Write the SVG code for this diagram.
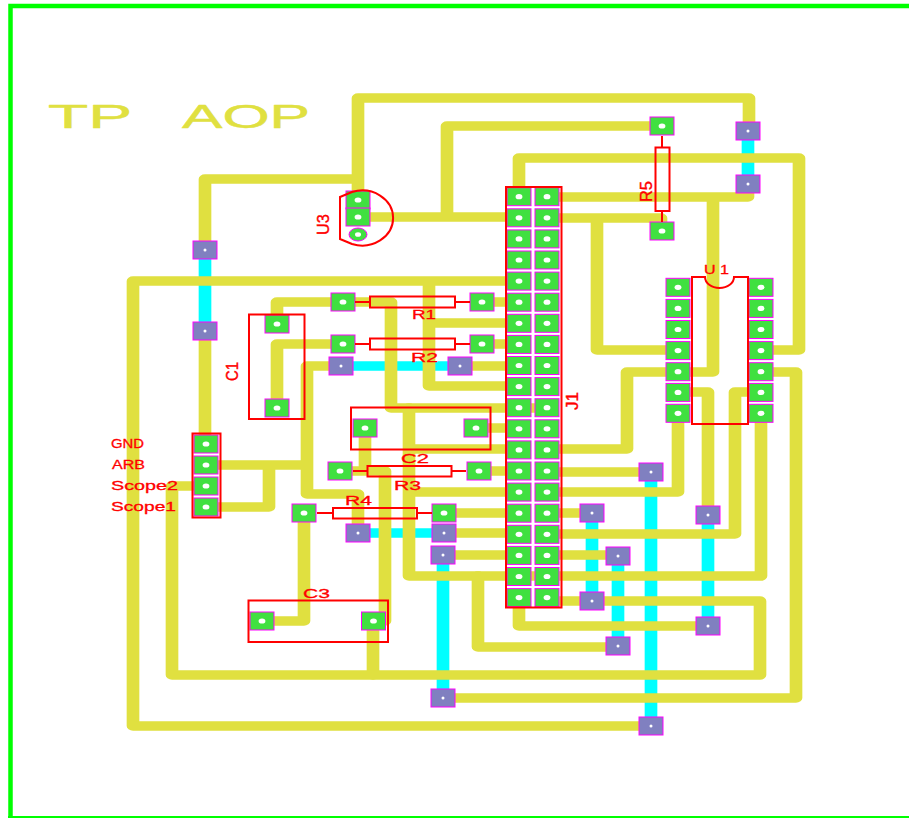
<svg xmlns="http://www.w3.org/2000/svg" xmlns:xlink="http://www.w3.org/1999/xlink" width="909" height="818" viewBox="0 0 909 818">
<style>
.t{fill:none;stroke:#e0e040;stroke-width:9.500;stroke-linejoin:round;stroke-linecap:round}
.c{fill:none;stroke:#00ffff;stroke-width:9.500}
.o{fill:none;stroke:#ff0000;stroke-width:2}
.l{fill:#ff0000;stroke:#ff0000;stroke-width:.3;font-family:"Liberation Sans",Arial,sans-serif;font-size:12.5px}
.r{fill:#ff0000;stroke:#ff0000;stroke-width:.4;font-family:"Liberation Sans",Arial,sans-serif;font-size:16.5px}
.title{fill:#e0e040;stroke:#e0e040;stroke-width:.5;stroke-linejoin:round;font-family:"Liberation Sans",Arial,sans-serif;font-size:34px}
</style>
<defs>
<g id="pad"><rect x="-12" y="-9" width="24" height="18" fill="#40e040" stroke="#ff00ff" stroke-width="1"/><ellipse rx="3.400" ry="2.600" fill="#fff"/></g>
<g id="via"><rect x="-12" y="-9" width="24" height="18" fill="#8080c0" stroke="#ff00ff" stroke-width="1"/><circle r="1.500" fill="#fff"/></g>
</defs>
<rect width="909" height="818" fill="#fff"/>
<path d="M10.500 818V6H909" fill="none" stroke="#00ff00" stroke-width="4.500"/>
<path d="M8 817H909" fill="none" stroke="#00ff00" stroke-width="2"/>
<g id="title"><text class="title" x="48" y="127.500" textLength="84" lengthAdjust="spacingAndGlyphs">TP</text><text class="title" x="182" y="127.500" textLength="128" lengthAdjust="spacingAndGlyphs">AOP</text></g>
<g id="connectors" transform="scale(1.33333,1)">
<g id="bottom-layer"><path class="c" d="M153.750 250V331M255.750 366H345M268.500 533H333M332.250 555V698M444 513V601M463.500 556V646M488.250 472V726M531 515V626M561 131V184"/></g>
<g id="top-layer">
<path class="t" d="M153.750 250V179H268.500V98H561.750V131M268.500 179V200"/>
<path class="t" d="M268.500 217H389.250M335.250 217V126H495.750"/>
<path class="t" d="M410.250 218H495.750V231M447.750 218V350H508.500"/>
<path class="t" d="M410.250 197H561V184M534.750 197V372H470.250V449H410.250"/>
<path class="t" d="M389.250 197V158H599.250V350H570.750"/>
<path class="t" d="M508.500 392H531V515"/>
<path class="t" d="M508.500 413V492H410.250"/>
<path class="t" d="M488.250 472H410.250"/>
<path class="t" d="M570.750 392H551.250V534H410.250"/>
<path class="t" d="M306.750 408V576H570.750V413M306.750 449H389.250M306.750 492H389.250"/>
<path class="t" d="M257.250 302H293.250V408H410.250"/>
<path class="t" d="M207.750 324V302H257.250"/>
<path class="t" d="M207.750 408V344H257.250"/>
<path class="t" d="M488.250 726H99.750V281H389.250M321.750 281V386H389.250M321.750 323H389.250"/>
<path class="t" d="M361.500 302H389.250M361.500 344H389.250M345 366H389.250M358.500 428H389.250M359.250 471H389.250"/>
<path class="t" d="M255 471H288.750V621H279.750V675M273.750 428V471"/>
<path class="t" d="M255.750 366H230.250V494H268.500V533M154.500 465H230.250M201.750 465V507H154.500"/>
<path class="t" d="M154.500 486H129V675H570V601H410.250"/>
<path class="t" d="M153.750 331V444"/>
<path class="t" d="M333 513H389.250M333 533H389.250M332.250 555H389.250M410.250 513H444M410.250 555H463.500"/>
<path class="t" d="M228 513V621H196.500"/>
<path class="t" d="M332.250 698H597V372H570.750"/>
<path class="t" d="M463.500 647H358.500V576"/>
<path class="t" d="M389.250 598V626H531"/>
</g>
</g>
<g id="vias">
<g id="via1"><use href="#via" x="205" y="250"/></g>
<g id="via2"><use href="#via" x="205" y="331"/></g>
<g id="via3"><use href="#via" x="341" y="366"/></g>
<g id="via4"><use href="#via" x="460" y="366"/></g>
<g id="via5"><use href="#via" x="358" y="533"/></g>
<g id="via6"><use href="#via" x="444" y="533"/></g>
<g id="via7"><use href="#via" x="443" y="555"/></g>
<g id="via8"><use href="#via" x="443" y="698"/></g>
<g id="via9"><use href="#via" x="592" y="513"/></g>
<g id="via10"><use href="#via" x="592" y="601"/></g>
<g id="via11"><use href="#via" x="618" y="556"/></g>
<g id="via12"><use href="#via" x="618" y="646"/></g>
<g id="via13"><use href="#via" x="651" y="472"/></g>
<g id="via14"><use href="#via" x="651" y="726"/></g>
<g id="via15"><use href="#via" x="708" y="515"/></g>
<g id="via16"><use href="#via" x="708" y="626"/></g>
<g id="via17"><use href="#via" x="748" y="131"/></g>
<g id="via18"><use href="#via" x="748" y="184"/></g>
</g>
<g id="J1">
<use href="#pad" x="519" y="196.700"/><use href="#pad" x="547" y="196.700"/>
<use href="#pad" x="519" y="217.800"/><use href="#pad" x="547" y="217.800"/>
<use href="#pad" x="519" y="238.900"/><use href="#pad" x="547" y="238.900"/>
<use href="#pad" x="519" y="260"/><use href="#pad" x="547" y="260"/>
<use href="#pad" x="519" y="281.100"/><use href="#pad" x="547" y="281.100"/>
<use href="#pad" x="519" y="302.200"/><use href="#pad" x="547" y="302.200"/>
<use href="#pad" x="519" y="323.300"/><use href="#pad" x="547" y="323.300"/>
<use href="#pad" x="519" y="344.400"/><use href="#pad" x="547" y="344.400"/>
<use href="#pad" x="519" y="365.500"/><use href="#pad" x="547" y="365.500"/>
<use href="#pad" x="519" y="386.600"/><use href="#pad" x="547" y="386.600"/>
<use href="#pad" x="519" y="407.700"/><use href="#pad" x="547" y="407.700"/>
<use href="#pad" x="519" y="428.800"/><use href="#pad" x="547" y="428.800"/>
<use href="#pad" x="519" y="449.900"/><use href="#pad" x="547" y="449.900"/>
<use href="#pad" x="519" y="471"/><use href="#pad" x="547" y="471"/>
<use href="#pad" x="519" y="492.100"/><use href="#pad" x="547" y="492.100"/>
<use href="#pad" x="519" y="513.200"/><use href="#pad" x="547" y="513.200"/>
<use href="#pad" x="519" y="534.300"/><use href="#pad" x="547" y="534.300"/>
<use href="#pad" x="519" y="555.400"/><use href="#pad" x="547" y="555.400"/>
<use href="#pad" x="519" y="576.500"/><use href="#pad" x="547" y="576.500"/>
<use href="#pad" x="519" y="597.600"/><use href="#pad" x="547" y="597.600"/>
<rect class="o" x="506" y="187" width="55.500" height="420.500"/>
<text class="r" transform="translate(578,410) rotate(-90)" textLength="18" lengthAdjust="spacingAndGlyphs">J1</text>
</g>
<g id="U1">
<use href="#pad" x="678" y="287.300"/><use href="#pad" x="678" y="308.400"/><use href="#pad" x="678" y="329.500"/><use href="#pad" x="678" y="350.600"/><use href="#pad" x="678" y="371.700"/><use href="#pad" x="678" y="392.400"/><use href="#pad" x="678" y="413.300"/>
<use href="#pad" x="761" y="287.300"/><use href="#pad" x="761" y="308.400"/><use href="#pad" x="761" y="329.500"/><use href="#pad" x="761" y="350.600"/><use href="#pad" x="761" y="371.700"/><use href="#pad" x="761" y="392.400"/><use href="#pad" x="761" y="413.300"/>
<path class="o" d="M705 277H692V424H748V277H734A14.500 11 0 0 1 705 277Z"/>
<text class="l" x="704" y="274" textLength="25" lengthAdjust="spacingAndGlyphs">U 1</text>
</g>
<g id="U3">
<use href="#pad" x="358" y="200"/><use href="#pad" x="358" y="217"/>
<ellipse cx="358" cy="234.500" rx="9" ry="6.500" fill="#40e040" stroke="#ff00ff" stroke-width="1"/><ellipse cx="358" cy="234.500" rx="3" ry="2.300" fill="#fff"/>
<path class="o" d="M340 197L352 192A31 27.500 0 1 1 352 244L340 239Z"/>
<text class="r" transform="translate(329,235) rotate(-90)" textLength="21" lengthAdjust="spacingAndGlyphs">U3</text>
</g>
<g id="R1">
<use href="#pad" x="343" y="302"/><use href="#pad" x="482" y="302"/>
<path class="o" d="M355 302H370M455 302H470"/><rect class="o" x="370" y="296.500" width="85" height="11"/>
<text class="l" x="412" y="319" textLength="24" lengthAdjust="spacingAndGlyphs">R1</text>
</g>
<g id="R2">
<use href="#pad" x="343" y="344"/><use href="#pad" x="482" y="344"/>
<path class="o" d="M355 344H370M455 344H470"/><rect class="o" x="370" y="338.500" width="85" height="11"/>
<text class="l" x="411" y="361.500" textLength="27" lengthAdjust="spacingAndGlyphs">R2</text>
</g>
<g id="R3">
<use href="#pad" x="340" y="471"/><use href="#pad" x="479" y="471"/>
<path class="o" d="M353 471H367M451 471H466"/><rect class="o" x="367.500" y="466" width="84" height="10.500"/>
<text class="l" x="394" y="489.500" textLength="27" lengthAdjust="spacingAndGlyphs">R3</text>
</g>
<g id="R4">
<use href="#pad" x="304" y="513"/><use href="#pad" x="444" y="513"/>
<path class="o" d="M317 513H333M417 513H432"/><rect class="o" x="333" y="508" width="84" height="10.500"/>
<text class="l" x="345" y="504.500" textLength="27" lengthAdjust="spacingAndGlyphs">R4</text>
</g>
<g id="R5">
<use href="#pad" x="662" y="126"/><use href="#pad" x="662" y="231"/>
<path class="o" d="M662 136V147M662 211V222"/><rect class="o" x="655.500" y="147.500" width="14" height="63.500"/>
<text class="r" transform="translate(652,202) rotate(-90)" textLength="21" lengthAdjust="spacingAndGlyphs">R5</text>
</g>
<g id="C1">
<use href="#pad" x="277" y="324"/><use href="#pad" x="277" y="408"/>
<rect class="o" x="249" y="314.500" width="55.500" height="104.500"/>
<text class="r" transform="translate(238,381) rotate(-90)" textLength="19" lengthAdjust="spacingAndGlyphs">C1</text>
</g>
<g id="C2">
<use href="#pad" x="365" y="428"/><use href="#pad" x="476" y="428"/>
<rect class="o" x="351" y="407.500" width="139.500" height="42"/>
<text class="l" x="401" y="463" textLength="28" lengthAdjust="spacingAndGlyphs">C2</text>
</g>
<g id="C3">
<use href="#pad" x="262" y="621"/><use href="#pad" x="373.500" y="621"/>
<rect class="o" x="248.500" y="600.500" width="139.500" height="41.500"/>
<text class="l" x="303" y="598" textLength="27" lengthAdjust="spacingAndGlyphs">C3</text>
</g>
<g id="header">
<use href="#pad" x="206" y="444"/><use href="#pad" x="206" y="465"/><use href="#pad" x="206" y="486"/><use href="#pad" x="206" y="507"/>
<rect class="o" x="192.500" y="433.500" width="28" height="84"/>
<text class="l" x="111" y="448" textLength="33" lengthAdjust="spacingAndGlyphs">GND</text>
<text class="l" x="112" y="469" textLength="33" lengthAdjust="spacingAndGlyphs">ARB</text>
<text class="l" x="111" y="490" textLength="67" lengthAdjust="spacingAndGlyphs">Scope2</text>
<text class="l" x="111" y="511" textLength="65" lengthAdjust="spacingAndGlyphs">Scope1</text>
</g>
</svg>
